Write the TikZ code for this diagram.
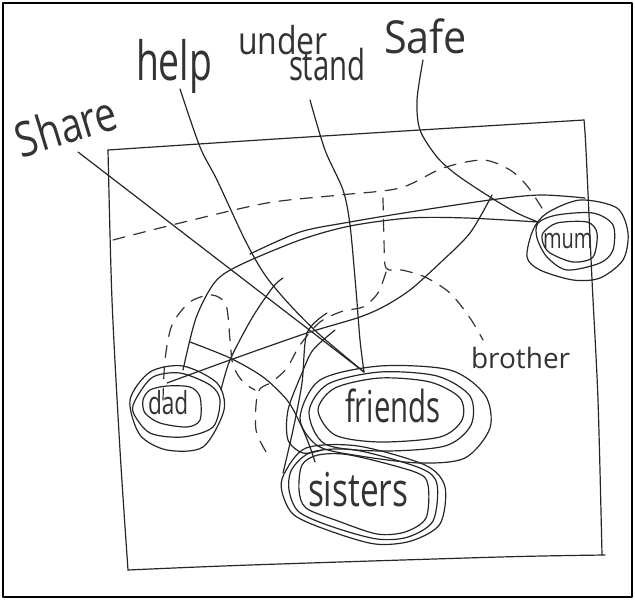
\documentclass[tikz,border=0pt]{standalone}
\usepackage{fontspec}
\setmainfont{Open Sans}
\begin{document}
\begin{tikzpicture}[x=0.75pt,y=-0.75pt,line cap=round,line join=round,
  ink/.style={draw=black!85,line width=0.9pt},
  dashink/.style={draw=black!80,line width=0.9pt,dash pattern=on 9pt off 7pt},
  ring/.style={draw=black!85,line width=0.9pt},
  word/.style={inner sep=0pt,outer sep=0pt,text=black!80,anchor=base west}]
\useasboundingbox (0,0) rectangle (635,600);
\draw[black,line width=1pt] (3,3) rectangle (632,597);

% inner square
\draw[ink] plot[smooth] coordinates {(108,150) (260,140) (420,130) (584,120)};
\draw[ink] plot[smooth] coordinates {(108,150) (112,300) (120,450) (128,570)};
\draw[ink] plot[smooth] coordinates {(128,570) (250,565) (500,557) (605,555)};
\draw[ink] plot[smooth] coordinates {(584,120) (586,150) (592,280) (598,400) (602,555)};

% words
\node[word,font=\fontsize{29}{32}\selectfont,rotate=17,yscale=1.25] (share) at (22,158) {Share};
\node[word,font=\fontsize{28}{32}\selectfont,yscale=1.45] (help) at (136,80) {help};
\node[word,font=\fontsize{24}{28}\selectfont,yscale=1.2] (under) at (238,54) {under};
\node[word,font=\fontsize{22}{26}\selectfont,yscale=1.45] (stand) at (289,80) {stand};
\node[word,font=\fontsize{31}{36}\selectfont,yscale=1.1] (safe) at (384,53) {Safe};
\node[word,font=\fontsize{21}{24}\selectfont] (brother) at (471,368) {brother};
\node[word,font=\fontsize{17}{20}\selectfont,yscale=1.4] (dad) at (148,414) {dad};
\node[word,font=\fontsize{22}{26}\selectfont,yscale=1.5] (friends) at (345,422) {friends};
\node[word,font=\fontsize{25}{28}\selectfont,yscale=1.4] (sisters) at (308,506) {sisters};
\node[word,font=\fontsize{15}{18}\selectfont,yscale=1.4] (mum) at (543,248) {mum};

% rings: dad
\draw[ring] plot[smooth cycle] coordinates {(143,400) (150,390) (167,386) (190,387) (200,397) (200,420) (187,427) (160,423) (145,413)};
\draw[ring] plot[smooth cycle] coordinates {(137,397) (153,377) (180,373) (210,385) (220,400) (213,427) (183,437) (150,433) (133,412)};
\draw[ring] plot[smooth cycle] coordinates {(130,400) (150,372) (183,366) (217,383) (224,410) (203,447) (167,450) (140,435)};
% rings: friends
\draw[ring] plot[smooth cycle] coordinates {(318,410) (335,388) (380,378) (430,382) (460,398) (462,420) (440,437) (380,442) (335,435)};
\draw[ring] plot[smooth cycle] coordinates {(309,412) (328,384) (380,372) (437,376) (470,396) (471,425) (445,446) (380,451) (325,444)};
\draw[ring] plot[smooth cycle] coordinates {(300,418) (320,380) (380,366) (450,370) (485,395) (490,428) (465,458) (420,463) (360,456) (318,446)};
% rings: sisters
\draw[ring] plot[smooth cycle] coordinates {(302,465) (318,455) (350,455) (415,472) (428,485) (426,518) (405,532) (377,534) (338,521) (306,508) (299,490)};
\draw[ring] plot[smooth cycle] coordinates {(292,469) (312,452) (355,450) (420,468) (437,484) (433,521) (408,537) (377,539) (333,527) (299,512) (289,490)};
\draw[ring] plot[smooth cycle] coordinates {(284,474) (306,448) (358,446) (425,465) (445,487) (440,524) (411,541) (375,544) (330,531) (294,515) (282,492)};
% rings: mum
\draw[ring] plot[smooth cycle] coordinates {(543,233) (557,223) (587,222) (597,233) (593,257) (573,262) (550,253) (543,243)};
\draw[ring] plot[smooth cycle] coordinates {(538,223) (557,215) (593,213) (613,225) (613,250) (600,263) (567,270) (547,257) (537,238)};
\draw[ring] plot[smooth cycle] coordinates {(527,257) (533,230) (547,213) (580,200) (617,208) (628,233) (623,260) (600,278) (573,280) (540,270)};

% anchor points
\coordinate (fj) at (364,372);
\coordinate (shareA) at (78,152);
\coordinate (helpA) at (180,89);
\coordinate (underA) at (310,100);
\coordinate (safeA) at (423,60);
\coordinate (mumL) at (538,222);
\coordinate (mumT) at (585,198);
\coordinate (dadT) at (183,370);
\coordinate (dadR) at (221,390);
\coordinate (dadTop) at (167,383);
\coordinate (brotherT) at (483,340);
\coordinate (sisT) at (315,462);

% word connectors
\draw[ink] (shareA) -- (fj);
\draw[ink] plot[smooth] coordinates {(helpA) (200,147) (217,180) (245,240) (265,275) (290,305) (320,335) (fj)};
\draw[ink] plot[smooth] coordinates {(underA) (325,150) (343,190) (350,225) (356,290) (360,340) (fj)};
\draw[ink] plot[smooth] coordinates {(safeA) (417,100) (420,130) (437,157) (457,175) (490,197) (517,213) (mumL)};

% solid links
\draw[ink] plot[smooth] coordinates {(dadT) (196,318) (215,282) (240,265) (300,240) (350,226) (410,218) (467,218) (mumL)};
\draw[ink] plot[smooth] coordinates {(250,254) (300,232) (350,222) (410,212) (490,200) (540,195) (mumT)};
\draw[ink] plot[smooth] coordinates {(dadR) (230,360) (252,318) (273,287) (283,278)};
\draw[ink] plot[smooth] coordinates {(492,195) (470,233) (440,263) (410,290) (383,307) (357,318) (307,333) (230,360) (dadTop)};
\draw[ink] plot[smooth] coordinates {(190,342) (230,358) (263,377) (287,400) (300,423) (310,447) (sisT)};
\draw[ink] plot[smooth] coordinates {(327,313) (307,333) (302,383) (293,430) (283,473)};
\draw[ink] plot[smooth] coordinates {(335,330) (313,350) (302,373) (288,410) (288,440) (303,453) (322,450)};

% dashed links
\draw[dashink] plot[smooth] coordinates {(113,240) (180,223) (267,203) (340,195) (400,188) (443,168) (483,160) (510,170) (528,187) (545,213)};
\draw[dashink] plot[smooth] coordinates {(383,198) (384,240) (386,268) (402,270) (425,277) (450,293) (470,318) (brotherT)};
\draw[dashink] plot[smooth] coordinates {(386,272) (378,293) (363,307) (343,311) (320,322) (300,345) (287,368) (272,382) (258,392) (256,430) (268,455)};
\draw[dashink] plot[smooth] coordinates {(163,400) (165,360) (172,325) (190,302) (212,295) (226,305) (230,340) (233,365) (243,382) (255,390)};
\end{tikzpicture}
\end{document}
